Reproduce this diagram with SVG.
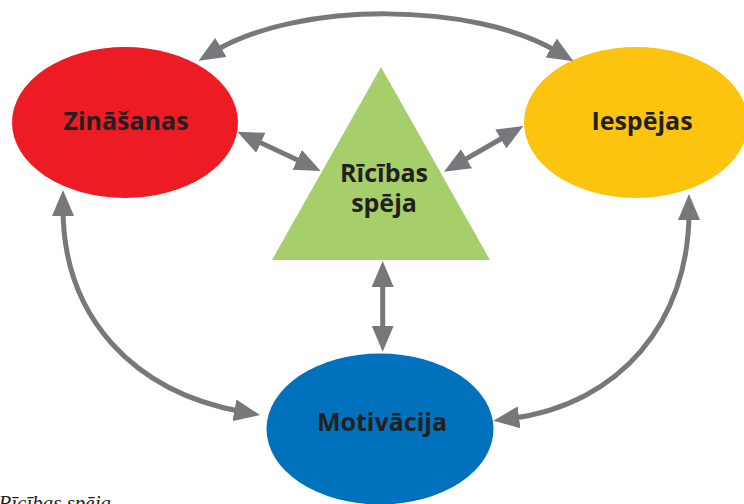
<svg xmlns="http://www.w3.org/2000/svg" width="744" height="504" viewBox="0 0 744 504">
<style>
.lbl{font-family:"Open Sans","Noto Sans","Liberation Sans",sans-serif;font-weight:bold;font-size:25px;fill:#231f20;text-anchor:middle}
.con{fill:none;stroke:#77787b;stroke-width:5;marker-start:url(#ah);marker-end:url(#ah)}
.cap{font-family:"Liberation Serif",serif;font-style:italic;font-size:21px;fill:#231f20;text-anchor:end}
</style>
<defs>
<marker id="ah" markerUnits="userSpaceOnUse" viewBox="0 0 26 22" markerWidth="26" markerHeight="22" refX="8" refY="11" orient="auto-start-reverse">
<path d="M0,0 L26,11 L0,22 z" fill="#77787b"/>
</marker>
</defs>
<rect width="744" height="504" fill="#ffffff"/>
<g id="zinasanas">
<ellipse cx="125" cy="122.5" rx="113" ry="75.5" fill="#ed1c24"/>
<text class="lbl" x="126" y="130">Zināšanas</text>
</g>
<g id="iespejas">
<ellipse cx="636" cy="122.5" rx="112" ry="75.5" fill="#fdc40f"/>
<text class="lbl" x="642" y="130">Iespējas</text>
</g>
<g id="ricibas-speja">
<polygon points="381,67 272,260 490,260" fill="#a6cf6b"/>
<text class="lbl" x="384" y="182">Rīcības</text>
<text class="lbl" x="384" y="212">spēja</text>
</g>
<g id="motivacija">
<ellipse cx="380" cy="429" rx="113.5" ry="75.5" fill="#0071bc"/>
<text class="lbl" x="382" y="431">Motivācija</text>
</g>
<g id="connectors">
<path class="con" d="M214,51.5 C298,1 474,1.5 558,52"/>
<path class="con" d="M253.6,139.4 L304.4,163.3"/>
<path class="con" d="M459.6,162.7 L507.7,135"/>
<path class="con" d="M382.7,279 L382.7,333.7"/>
<path class="con" d="M63,208 C63,318 134,392 242.3,411.8"/>
<path class="con" d="M689,212 C689,322 620,404.3 511.1,418.4"/>
</g>
<text class="cap" x="111" y="510">Rīcības spēja</text>
</svg>
